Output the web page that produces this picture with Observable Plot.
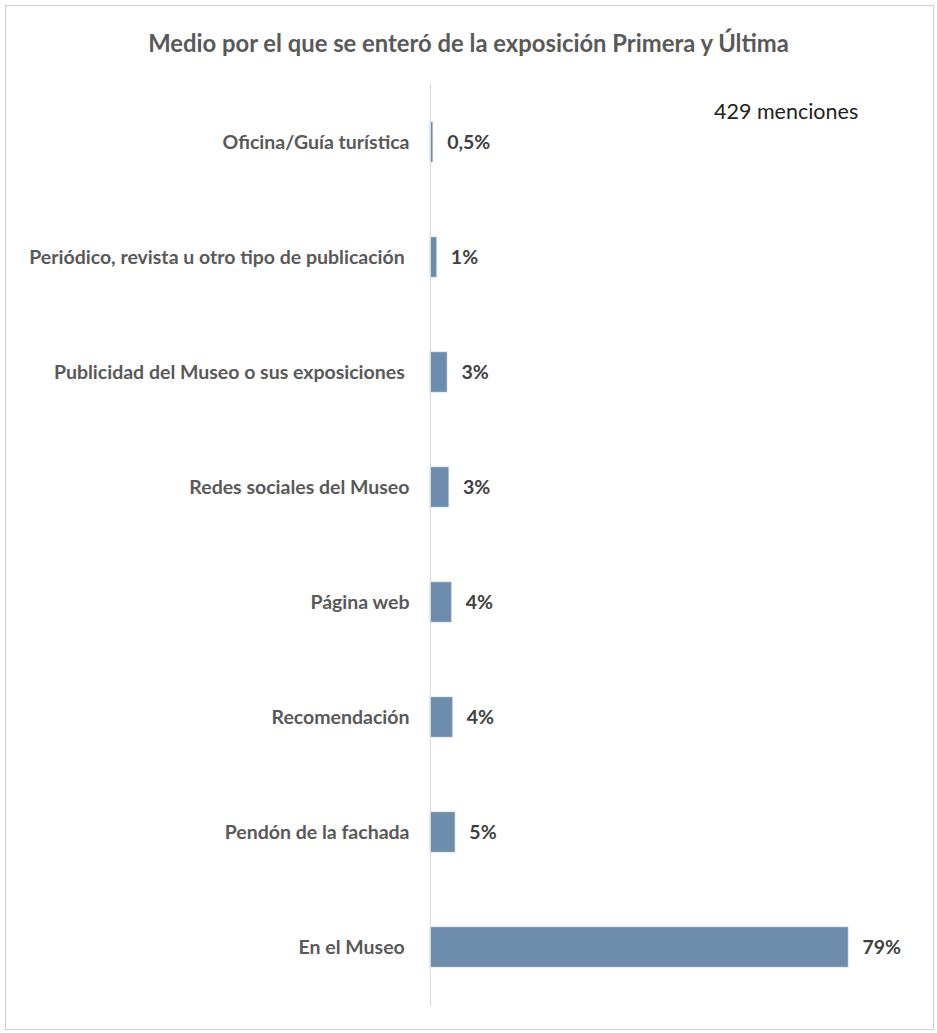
<!DOCTYPE html>
<html>
<head>
<meta charset="utf-8">
<script src="https://cdn.jsdelivr.net/npm/d3@7"></script>
<script src="https://cdn.jsdelivr.net/npm/@observablehq/plot@0.6"></script>
<style>
  html, body { margin: 0; padding: 0; background: #fff; }
  #wrap { position: relative; width: 937px; height: 1033px; font-family: Lato, "Open Sans", sans-serif; }
  #frame { position: absolute; left: 5px; top: 5px; width: 929px; height: 1025px; border: 1px solid #d0d0d0; box-sizing: border-box; }
  #title { position: absolute; left: 0; width: 937px; top: 28px; line-height: 30px; text-align: center; font-size: 23.8px; font-weight: bold; color: #595959; }
  #note { position: absolute; left: 714px; top: 97px; line-height: 28px; font-size: 21.5px; color: #222; }
  #chart { position: absolute; left: 0; top: 80px; }
</style>
</head>
<body>
<div id="wrap">
  <div id="frame"></div>
  <div id="title">Medio por el que se enteró de la exposición Primera y Última</div>
  <div id="note">429 menciones</div>
  <div id="chart"></div>
</div>
<script>
const categorias = [
  "Oficina/Guía turística",
  "Periódico, revista u otro tipo de publicación\u00a0",
  "Publicidad del Museo o sus exposiciones\u00a0",
  "Redes sociales del Museo",
  "Página web",
  "Recomendación",
  "Pendón de la fachada",
  "En el Museo\u00a0"
];
const valores = [0.5, 1.2, 3.2, 3.5, 4.0, 4.2, 4.7, 79];
const etiquetas = ["0,5%", "1%", "3%", "3%", "4%", "4%", "5%", "79%"];

const data = categorias.map((c, i) => ({ c, v: valores[i], t: etiquetas[i] }));

const chart = Plot.plot({
  width: 937,
  height: 953,
  marginTop: 3,
  marginBottom: 27,
  marginLeft: 430,
  marginRight: 89,
  x: { domain: [0, 79], axis: null },
  y: { domain: categorias, axis: null, paddingInner: 0.65, paddingOuter: 0.325 },
  style: { fontFamily: "Lato, 'Open Sans', sans-serif", background: "transparent", overflow: "visible" },
  marks: [
    Plot.barX(data, { x: "v", y: "c", fill: "#6e8cab", stroke: "#a9bdd3", strokeWidth: 0.6 }),
    Plot.ruleX([0], { stroke: "#d9d9d9", strokeWidth: 1 }),
    Plot.text(data, { x: 0, y: "c", text: "c", textAnchor: "end", dx: -21, fontWeight: "bold", fontSize: 19.5, fill: "#595959" }),
    Plot.text(data, { x: "v", y: "c", text: "t", textAnchor: "start", dx: 14, fontWeight: "bold", fontSize: 19.5, fill: "#404040" })
  ]
});
document.getElementById("chart").appendChild(chart);
</script>
</body>
</html>
